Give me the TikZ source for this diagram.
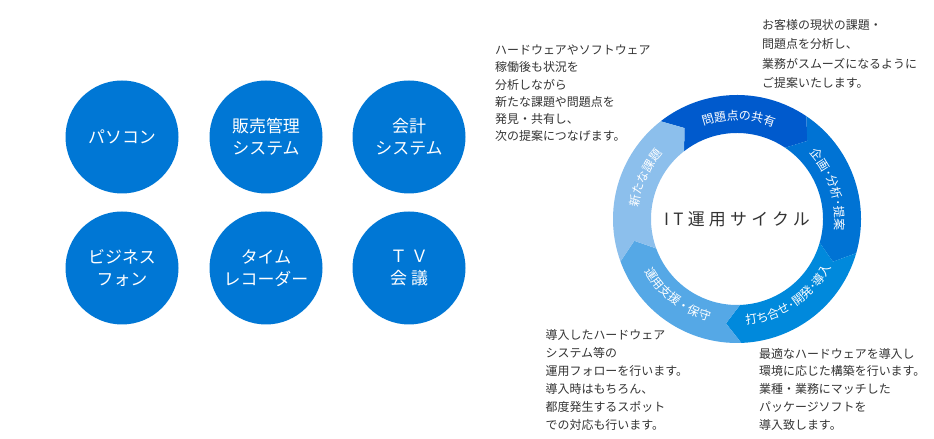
\documentclass[tikz,border=0pt]{standalone}
\usepackage{fontspec}
\setmainfont{Noto Sans CJK JP}
\newfontfamily\cyclefont[LetterSpace=25]{Noto Sans CJK JP}
\usetikzlibrary{decorations.text}

\definecolor{ballblue}{HTML}{0077D5}
\definecolor{textgray}{HTML}{333333}
\definecolor{ringA}{HTML}{005ACD}
\definecolor{ringB}{HTML}{0073D4}
\definecolor{ringC}{HTML}{0089DC}
\definecolor{ringD}{HTML}{55A8E6}
\definecolor{ringE}{HTML}{8CBFEC}

\newcommand{\ringlabel}{\color{white}\fontsize{12}{12}\selectfont}

\tikzset{
  ball/.style={circle, fill=ballblue, minimum size=113bp, inner sep=0pt,
    text=white, align=center, font=\fontsize{17}{21.7}\selectfont},
  memo/.style={anchor=north west, inner sep=0pt, align=left, text=textgray,
    font=\fontsize{12}{#1}\selectfont},
  ringtext/.style={decorate, decoration={text along path, text align=center,
    text={|\ringlabel|#1}}}
}

\begin{document}
\begin{tikzpicture}[x=1bp,y=1bp]
\useasboundingbox (0,0) rectangle (934,439);

% products
\node [ball] (pc) at (122,302) {パソコン};
\node [ball] (sales) at (266,302) {販売管理\\システム};
\node [ball] (account) at (409,302) {会計\\システム};
\node [ball] (phone) at (122,171) {ビジネス\\フォン};
\node [ball] (recorder) at (266,171) {タイム\\レコーダー};
\node [ball] (tv) at (409,171) {Ｔ\hspace{4bp}Ｖ\\会\hspace{4bp}議};

% cycle
\coordinate (O) at (737,220);
\begin{scope}[shift={(O)}]
\foreach \s/\col in {128/ringA, 56/ringB, -16/ringC, -88/ringD, -160/ringE}{
  \fill [\col] (\s:124) arc [start angle=\s, end angle=\s-72, radius=124]
    -- (\s-80:105) -- (\s-72:86) arc [start angle=\s-72, end angle=\s, radius=86]
    -- (\s-8:105) -- cycle;
}
\path [ringtext=問題点の共有] (124:99) arc [start angle=124, end angle=54, radius=99];
\path [ringtext=企画･分析･提案] (53:98) arc [start angle=53, end angle=-17, radius=98];
\path [ringtext=打ち合せ･開発･導入] (-96:106) arc [start angle=-96, end angle=-16, radius=106];
\path [ringtext=運用支援・保守] (197:106) arc [start angle=197, end angle=267, radius=106];
\path [ringtext=新たな課題] (191:99) arc [start angle=191, end angle=121, radius=99];
\end{scope}
\node [text=textgray, font=\cyclefont\fontsize{17}{17}\selectfont] (cycle) at (O) {IT運用サイクル};

% notes
\node [memo=17.3] (noteNW) at (495,396.5) {\strut ハードウェアやソフトウェア\\稼働後も状況を\\分析しながら\\新たな課題や問題点を\\発見・共有し、\\次の提案につなげます。};
\node [memo=19.3] (noteNE) at (762,422.9) {\strut お客様の現状の課題・\\問題点を分析し、\\業務がスムーズになるように\\ご提案いたします。};
\node [memo=18] (noteSW) at (545.5,112) {\strut 導入したハードウェア\\システム等の\\運用フォローを行います。\\導入時はもちろん、\\都度発生するスポット\\での対応も行います。};
\node [memo=18] (noteSE) at (759,93.7) {\strut 最適なハードウェアを導入し\\環境に応じた構築を行います。\\業種・業務にマッチした\\パッケージソフトを\\導入致します。};
\end{tikzpicture}
\end{document}
